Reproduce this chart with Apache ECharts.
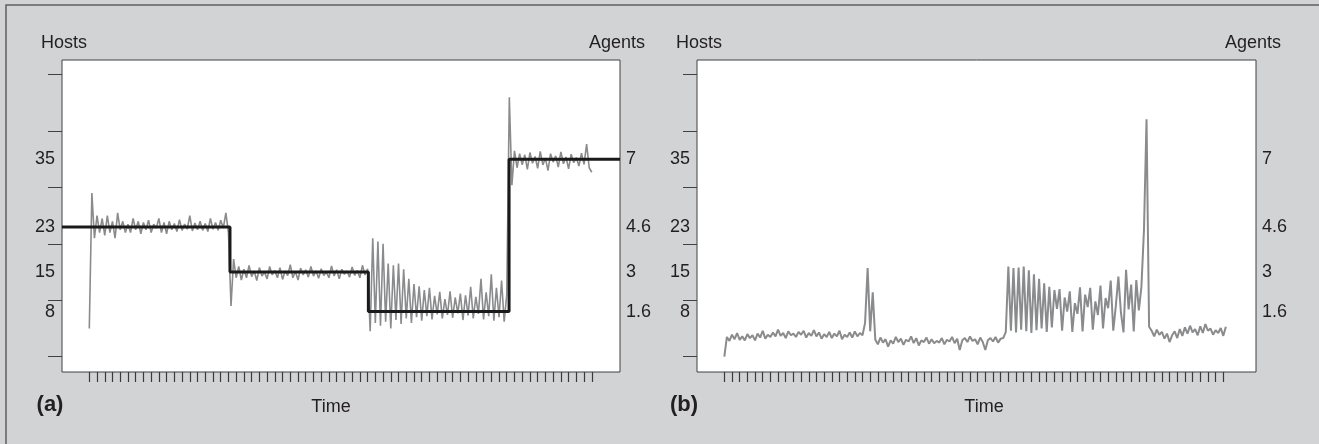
<!DOCTYPE html>
<html>
<head>
<meta charset="utf-8">
<title>Hosts and agents over time</title>
<script src="https://cdn.jsdelivr.net/npm/echarts@6/dist/echarts.min.js"></script>
<style>
    html, body { margin: 0; padding: 0; background: #d1d3d4; }
    #chart { width: 1319px; height: 444px; }
</style>
</head>
<body>
<div id="chart"></div>
<script>
'use strict';

// ---- data (x in tick units, 3 samples per tick) ----

// panel (a): hosts, one array per agent phase
var hostsA1 = [
    5, 29, 21, 25, 22, 24.5, 21.5, 25, 22, 24,
    21, 25.5, 22.5, 24, 22, 23.5, 22, 24.5, 22.5, 24,
    21.8, 23.8, 22.5, 24.2, 22, 23.5, 22.8, 24.5, 22, 23.8,
    21.8, 24, 22.5, 23.6, 22.2, 24.3, 22.4, 23.5, 22.6, 25,
    22.3, 23.7, 22.5, 24, 22.4, 23.6, 22.2, 24.5, 22.6, 23.8,
    22.4, 24.2, 22.8, 25.5, 22
];
var hostsA2 = [
    9, 17.3, 14, 16, 13.6, 15.5, 14, 16.2, 14.2, 15.2,
    13.5, 15.8, 14.3, 15, 13.8, 16, 14.5, 15.3, 14, 15.8,
    13.7, 15.2, 14.4, 16.3, 14, 15.1, 13.6, 15.7, 14.5, 15.4,
    14.1, 16, 14.3, 15.2, 13.9, 15.6, 14.4, 15, 14, 16.1,
    14.3, 15.4, 13.8, 15.5, 14.6, 15.2, 14.1, 15.9, 14.4, 15.3,
    14, 16.2, 14.5, 15.6
];
var hostsA3 = [
    4.5, 21, 6, 20.4, 5.5, 20, 6.2, 16.5, 5, 16.2,
    6.5, 16.5, 5.8, 15.5, 6.8, 13.8, 6, 12.9, 7, 12.5,
    6.4, 11.8, 7.2, 12.2, 6.6, 10.8, 7.5, 11.5, 6.8, 10.2,
    7.4, 11.6, 6.9, 10.5, 7.7, 11.2, 6.5, 10.9, 7.3, 12.4,
    6.8, 10.6, 7.6, 13.8, 6.6, 11.4, 7.2, 14.6, 6.4, 12.2,
    7, 13.5, 6.2, 11
];
var hostsA4 = [
    46, 30.4, 36.5, 33.5, 36, 34, 35.8, 33.2, 36.2, 34.3,
    35.5, 33.4, 36.4, 34, 35.2, 33, 36, 34.5, 35.6, 33.6,
    36.3, 34.2, 35.4, 33.3, 35.9, 34.4, 35.3, 33.8, 36.1, 34.1,
    37.7, 33.5, 32.7
];

// panel (a): agents, step changes
var agentTimes = [18.2, 36.1, 54.3];
var agentCounts = [4.6, 3, 1.6, 7];

// panel (b): hosts
var hostsB1 = [
    0, 3.5, 2.8, 3.9, 3.1, 4.2, 3, 3.6, 2.9, 4,
    3.3, 3.8, 2.9, 4.1, 3.4, 4.6, 3.2, 3.9, 3.5, 4.3,
    3.6, 4.8, 3.7, 4.2, 3.3, 4.5, 3.8, 4.1, 3.5, 4.4,
    3.9, 4.6, 3.4, 4.2, 3.7, 4.7, 3.6, 4.3, 3.2, 4,
    3.5, 4.4, 3.3, 4.1, 3.6, 4.6, 3.1, 3.9, 3.5, 4.3,
    3.4, 4.5, 3.6, 4.2, 3.8
];
var hostsB2 = [6, 15.7, 4.5, 11.4];
var hostsB3 = [
    3, 2.2, 3.4, 2.5, 3.1, 1.8, 2.9, 2.3, 3.5, 2.6,
    3.2, 2.1, 3, 2.7, 3.6, 2.4, 3.3, 2, 2.9, 2.6,
    3.4, 2.3, 3.1, 2.4, 2.8, 2.5, 3.3, 2.2, 3, 2.7,
    3.5, 2.4, 3.2, 1.2, 2.9, 3.3, 2.6, 3.6, 2.8, 3.1,
    2.2, 3.4, 2.6, 1.2, 2.9, 3.3, 2.7, 3.5, 2.5, 3.2,
    3.3
];
var hostsB4 = [
    4.4, 16, 4.6, 15.7, 4.3, 15.8, 4.8, 16, 4.5, 15.3,
    4.2, 14.6, 4.7, 13.8, 5, 13, 4.4, 12.4, 5.2, 11.8,
    8.5, 12, 4.6, 10.5, 8, 11.6, 4.4, 9.5, 7.6, 12.3,
    4.5, 11, 8.8, 12.2, 4.8, 9.8, 7.4, 12.6, 5, 10.4,
    8.6, 13.5, 4.6, 9, 14.2, 7.8, 4.3, 15.4, 8.4, 12.8,
    4.5, 13.6, 8.2, 12.4
];
var hostsB5 = [
    22.5, 42.1, 5.3, 4.6, 3.6, 4.8, 3.9, 4.4, 3.2, 4.1,
    2.6, 3.8, 4.5, 3.3, 4.9, 3.7, 5.2, 4.1, 5.5, 4.3,
    4.9, 3.8, 5.4, 4.2, 5.8, 4.6, 5, 3.9, 4.7, 4.2,
    5.1, 3.7, 5.3
];

// axis marks
var hostLabels = [8, 15, 23, 35];
var agentLabels = [1.6, 3, 4.6, 7];
var hostTicks = [0, 10, 20, 30, 40, 50];
var tickCount = 65;

// ---- layout ----
var HOST_MIN = -2.71;
var HOST_MAX = 52.6;
var AGENT_RATIO = 5;
var XA = [-3.53, 68.65];
var XB = [-3.56, 69.26];
var FONT = '"Liberation Sans", Arial, sans-serif';
var INK = '#231f20';

var timeTicks = [];
for (var t = 0; t <= tickCount; t++) {
    timeTicks.push(t);
}

// samples are evenly spaced, 3 per tick
function toPoints(parts) {
    var all = [].concat.apply([], parts);
    return all.map(function (v, i) {
        return [i / 3, v];
    });
}

function stepPoints(range) {
    var pts = [[range[0], agentCounts[0]]];
    agentTimes.forEach(function (x, i) {
        pts.push([x, agentCounts[i + 1]]);
    });
    pts.push([range[1], agentCounts[agentCounts.length - 1]]);
    return pts;
}

function xAxis(grid, range) {
    return {
        type: 'value',
        gridIndex: grid,
        position: 'bottom',
        min: range[0],
        max: range[1],
        axisLine: {show: false, onZero: false},
        splitLine: {show: false},
        axisLabel: {show: false},
        axisTick: {
            show: true,
            inside: false,
            customValues: timeTicks,
            length: 10,
            lineStyle: {color: '#3a3a3c', width: 1.2}
        }
    };
}

function hostAxis(grid) {
    return {
        type: 'value',
        gridIndex: grid,
        position: 'left',
        min: HOST_MIN,
        max: HOST_MAX,
        name: 'Hosts',
        nameLocation: 'end',
        nameGap: 8,
        nameTextStyle: {fontFamily: FONT, fontSize: 18, color: INK, align: 'right', padding: [0, -25, 0, 0]},
        axisLine: {show: false, onZero: false},
        splitLine: {show: false},
        axisTick: {
            show: true,
            inside: false,
            customValues: hostTicks,
            length: 14,
            lineStyle: {color: '#414042', width: 1}
        },
        axisLabel: {
            customValues: hostLabels,
            margin: 7,
            fontFamily: FONT,
            fontSize: 18,
            color: INK
        }
    };
}

function agentAxis(grid) {
    return {
        type: 'value',
        gridIndex: grid,
        position: 'right',
        min: HOST_MIN / AGENT_RATIO,
        max: HOST_MAX / AGENT_RATIO,
        name: 'Agents',
        nameLocation: 'end',
        nameGap: 8,
        nameTextStyle: {fontFamily: FONT, fontSize: 18, color: INK, align: 'right', padding: [0, -25, 0, 0]},
        axisLine: {show: false, onZero: false},
        splitLine: {show: false},
        axisTick: {show: false},
        axisLabel: {
            customValues: agentLabels,
            margin: 6,
            fontFamily: FONT,
            fontSize: 18,
            color: INK
        }
    };
}

function label(text, x, y, size, bold) {
    return {
        type: 'text',
        x: x,
        y: y,
        silent: true,
        style: {
            text: text,
            fill: INK,
            font: (bold ? '900 ' : '') + size + 'px ' + FONT,
            align: 'center',
            verticalAlign: 'middle'
        }
    };
}

var gridStyle = {
    show: true,
    backgroundColor: '#ffffff',
    borderColor: '#414042',
    borderWidth: 1
};

var chart = echarts.init(document.getElementById('chart'), null, {renderer: 'canvas'});

chart.setOption({
    animation: false,
    backgroundColor: '#d1d3d4',
    grid: [
        Object.assign({left: 62, top: 60, width: 558, height: 312}, gridStyle),
        Object.assign({left: 697, top: 60, width: 559, height: 312}, gridStyle)
    ],
    xAxis: [xAxis(0, XA), xAxis(1, XB)],
    yAxis: [hostAxis(0), agentAxis(0), hostAxis(1), agentAxis(1)],
    series: [
        {
            type: 'line',
            xAxisIndex: 0,
            yAxisIndex: 0,
            data: toPoints([hostsA1, hostsA2, hostsA3, hostsA4]),
            showSymbol: false,
            silent: true,
            lineStyle: {color: '#8a8b8d', width: 1.6}
        },
        {
            type: 'line',
            xAxisIndex: 0,
            yAxisIndex: 1,
            step: 'end',
            data: stepPoints(XA),
            showSymbol: false,
            silent: true,
            lineStyle: {color: '#1a1a1a', width: 3}
        },
        {
            type: 'line',
            xAxisIndex: 1,
            yAxisIndex: 2,
            data: toPoints([hostsB1, hostsB2, hostsB3, hostsB4, hostsB5]),
            showSymbol: false,
            silent: true,
            lineStyle: {color: '#8a8b8d', width: 2}
        }
    ],
    graphic: [
        // figure frame, cropped on the right and bottom
        {
            type: 'rect',
            silent: true,
            shape: {x: 6, y: 5, width: 1400, height: 500},
            style: {fill: 'none', stroke: '#5f6062', lineWidth: 1.5}
        },
        label('Time', 331, 407, 18, false),
        label('Time', 984, 407, 18, false),
        label('(a)', 50, 405, 22, true),
        label('(b)', 684, 405, 22, true)
    ]
});
</script>
</body>
</html>
